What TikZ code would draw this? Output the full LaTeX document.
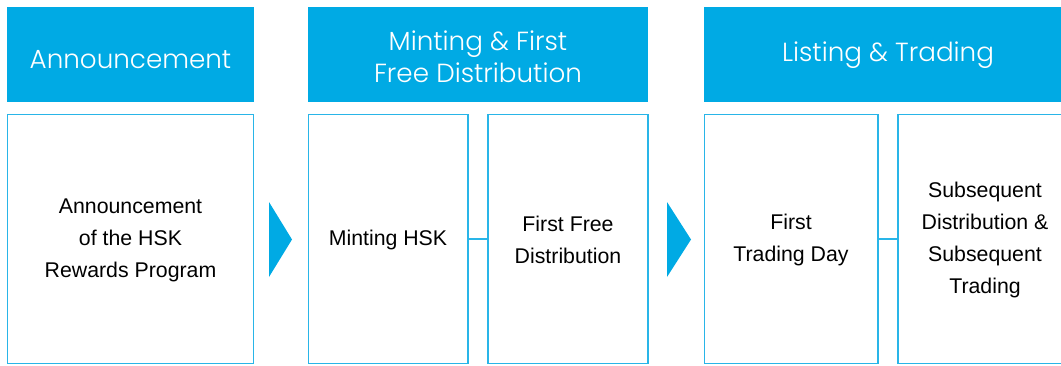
\documentclass[tikz,border=0pt]{standalone}
\usepackage{fontspec}
\setmainfont{Liberation Sans}
\IfFontExistsTF{Poppins Light}{\newfontfamily\hfont{Poppins Light}}{\newfontfamily\hfont{Lato}}
\definecolor{hblue}{RGB}{0,170,228}
\definecolor{bline}{RGB}{41,181,232}
\begin{document}
\begin{tikzpicture}[x=1pt,y=-1pt,
  header/.style={fill=hblue, draw=none, inner sep=0pt},
  htext/.style={text=white, font=\hfont\fontsize{26.2}{32}\selectfont, align=center},
  stepbox/.style={draw=bline, line width=1.4pt, fill=white},
  btext/.style={text=black, font=\fontsize{21.3}{32}\selectfont, align=center},
  link/.style={draw=bline, line width=1.4pt},
  chev/.style={fill=hblue, draw=none}]
\useasboundingbox (0,0) rectangle (1061,365);
\begin{scope}
\clip (0,0) rectangle (1061,365);
% headers
\fill[hblue] (7,7) rectangle (254,102);
\fill[hblue] (308,7) rectangle (648,102);
\fill[hblue] (704,7) rectangle (1072,102);
\node[htext] (h1) at (130.5,60) {Announcement};
\node[htext] (h2) at (478,57) {Minting \& First\\Free Distribution};
\node[htext] (h3) at (888,55) {Listing \& Trading};
% boxes
\draw[stepbox] (7.5,114.5) rectangle (253.5,363.5);
\draw[stepbox] (308.5,114.5) rectangle (468,363.5);
\draw[stepbox] (488,114.5) rectangle (648,363.5);
\draw[stepbox] (704.5,114.5) rectangle (878,363.5);
\draw[stepbox] (898,114.5) rectangle (1072,363.5);
\coordinate (b2e) at (468,239);
\coordinate (b3w) at (488,239);
\coordinate (b4e) at (878,239);
\coordinate (b5w) at (898,239);
\draw[link] (b2e) -- (b3w);
\draw[link] (b4e) -- (b5w);
\node[btext] (t1) at (130.5,240) {Announcement\\of the HSK\\Rewards Program};
\node[btext] (t2) at (388,240) {Minting HSK};
\node[btext] (t3) at (568,240) {First Free\\Distribution};
\node[btext] (t4) at (791,240) {First\\Trading Day};
\node[btext] (t5) at (985,240) {Subsequent\\Distribution \&\\Subsequent\\Trading};
% chevrons
\fill[hblue] (269,202) -- (292,239.5) -- (269,277) -- cycle;
\fill[hblue] (667,202) -- (691,239.5) -- (667,277) -- cycle;
\end{scope}
\end{tikzpicture}
\end{document}
